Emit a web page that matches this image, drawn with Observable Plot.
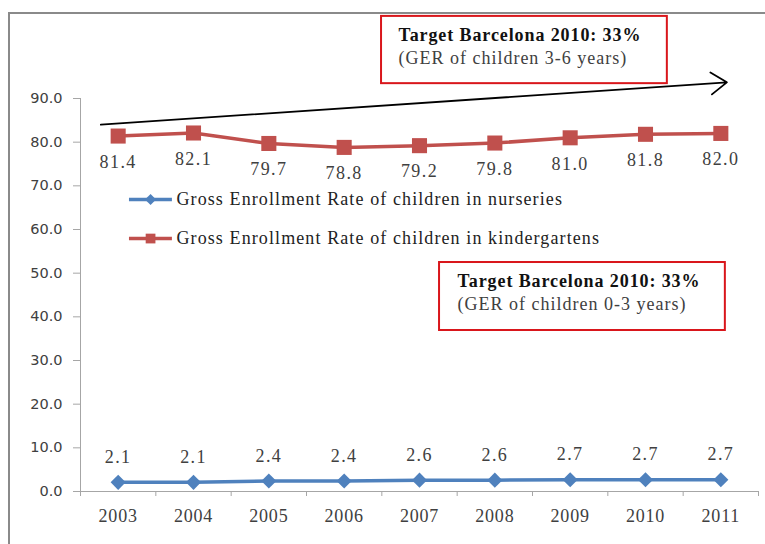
<!DOCTYPE html>
<html>
<head>
<meta charset="utf-8">
<script src="https://cdn.jsdelivr.net/npm/d3@7"></script>
<script src="https://cdn.jsdelivr.net/npm/@observablehq/plot@0.6"></script>
<style>
  html, body { margin: 0; padding: 0; background: #fff; overflow: hidden; }
  #wrap { position: relative; width: 765px; height: 544px; }
  #frame { position: absolute; left: 8px; top: 12px; width: 820px; height: 600px; border: 2px solid #8a8a8a; box-sizing: border-box; }
  #chart { position: absolute; left: 0; top: 0; }
</style>
</head>
<body>
<div id="wrap"><div id="frame"></div><div id="chart"></div></div>
<script>
const years = [2003, 2004, 2005, 2006, 2007, 2008, 2009, 2010, 2011];
const nurseries = [2.1, 2.1, 2.4, 2.4, 2.6, 2.6, 2.7, 2.7, 2.7];
const kindergartens = [81.4, 82.1, 79.7, 78.8, 79.2, 79.8, 81.0, 81.8, 82.0];
const yTicks = [0, 10, 20, 30, 40, 50, 60, 70, 80, 90];
const seriesNames = [
  "Gross Enrollment Rate of children in nurseries",
  "Gross Enrollment Rate of children in kindergartens"
];
const targetTitle = "Target Barcelona 2010: 33%";
const target36 = "(GER of children 3-6 years)";
const target03 = "(GER of children 0-3 years)";

const BLUE = "#4f81bd", RED = "#c0504d", BOXRED = "#d9161b";
const AXIS = "#a6a6a6", TEXT = "#404040";
const SERIF = "Liberation Serif, serif";
const SANS = "DejaVu Sans, sans-serif";

const nurs = years.map((year, i) => ({year, value: nurseries[i]}));
const kind = years.map((year, i) => ({year, value: kindergartens[i]}));
const halfTicks = years.map(y => y - 0.5).concat([years[years.length - 1] + 0.5]);
const c = v => () => v;

const chart = Plot.plot({
  width: 765,
  height: 544,
  marginLeft: 80,
  marginRight: 7,
  marginTop: 98,
  marginBottom: 53,
  style: {background: "transparent", color: TEXT},
  x: {domain: [2002.5, 2011.5], label: null},
  y: {domain: [0, 90], label: null},
  marks: [
    // axes
    Plot.ruleX([2002.5], {y1: c(0), y2: c(90), stroke: AXIS}),
    Plot.ruleY([0], {stroke: AXIS}),
    Plot.axisY({ticks: yTicks, tickSize: 7, tickPadding: 11, tickFormat: d => d.toFixed(1), label: null,
      stroke: AXIS, fill: TEXT, fontFamily: SANS, fontSize: 14.5}),
    Plot.axisX({ticks: halfTicks, tickSize: 5, tickFormat: () => "", stroke: AXIS, label: null}),
    Plot.axisX({ticks: years, tickSize: 0, tickPadding: 18, tickFormat: d => String(d), label: null,
      fill: TEXT, fontFamily: SERIF, fontSize: 18}),

    // target boxes
    Plot.rect([0], {x1: c(2006.496), x2: c(2010.29), y1: c(93.4), y2: c(108.8),
      fill: "white", stroke: BOXRED, strokeWidth: 2}),
    Plot.text([targetTitle], {x: c(2006.72), y: c(104.6), text: d => d, textAnchor: "start",
      fontFamily: SERIF, fontSize: 18, fontWeight: "bold", fill: "#111"}),
    Plot.text([target36], {x: c(2006.72), y: c(99.3), text: d => d, textAnchor: "start",
      fontFamily: SERIF, fontSize: 18, fill: TEXT}),
    Plot.rect([0], {x1: c(2007.266), x2: c(2011.06), y1: c(36.87), y2: c(52.44),
      fill: "white", stroke: BOXRED, strokeWidth: 2}),
    Plot.text([targetTitle], {x: c(2007.505), y: c(48.04), text: d => d, textAnchor: "start",
      fontFamily: SERIF, fontSize: 18, fontWeight: "bold", fill: "#111"}),
    Plot.text([target03], {x: c(2007.505), y: c(42.78), text: d => d, textAnchor: "start",
      fontFamily: SERIF, fontSize: 18, fill: TEXT}),

    // trend arrow
    Plot.arrow([0], {x1: c(2002.77), y1: c(84.0), x2: c(2011.08), y2: c(93.7),
      stroke: "#000", strokeWidth: 1.8, headLength: 16, headAngle: 70}),

    // legend
    Plot.ruleY([66.87], {x1: c(2003.15), x2: c(2003.72), stroke: BLUE, strokeWidth: 3.5}),
    Plot.dot([0], {x: c(2003.43), y: c(66.87), symbol: "diamond2", r: 5, fill: BLUE}),
    Plot.text([seriesNames[0]], {x: c(2003.774), y: c(66.87), text: d => d, textAnchor: "start",
      fontFamily: SERIF, fontSize: 18, fill: "#222"}),
    Plot.ruleY([57.93], {x1: c(2003.15), x2: c(2003.72), stroke: RED, strokeWidth: 3.5}),
    Plot.dot([0], {x: c(2003.43), y: c(57.93), symbol: "square", r: 5.5, fill: RED}),
    Plot.text([seriesNames[1]], {x: c(2003.774), y: c(57.93), text: d => d, textAnchor: "start",
      fontFamily: SERIF, fontSize: 18, fill: "#222"}),

    // series
    Plot.line(nurs, {x: "year", y: "value", stroke: BLUE, strokeWidth: 3.5}),
    Plot.dot(nurs, {x: "year", y: "value", symbol: "diamond2", r: 6.8, fill: BLUE}),
    Plot.line(kind, {x: "year", y: "value", stroke: RED, strokeWidth: 3.5}),
    Plot.dot(kind, {x: "year", y: "value", symbol: "square", r: 8.5, fill: RED}),

    // data labels
    Plot.text(nurs, {x: "year", y: "value", text: d => d.value.toFixed(1), dy: -25,
      fontFamily: SERIF, fontSize: 18, fill: TEXT}),
    Plot.text(kind, {x: "year", y: "value", text: d => d.value.toFixed(1), dy: 26,
      fontFamily: SERIF, fontSize: 18, fill: TEXT})
  ]
});

// widen the serif texts a little to match the wider original typeface
const spacing = new Map([
  [seriesNames[0], 1.1], [seriesNames[1], 1.1],
  [targetTitle, 0.9], [target36, 1.0], [target03, 1.0]
]);
for (const v of nurseries.concat(kindergartens)) spacing.set(v.toFixed(1), 1.4);
for (const y of years) spacing.set(String(y), 0.8);
d3.select(chart).selectAll("text").each(function () {
  const s = spacing.get(this.textContent);
  if (s != null) this.setAttribute("letter-spacing", s);
});
document.getElementById("chart").appendChild(chart);
</script>
</body>
</html>
